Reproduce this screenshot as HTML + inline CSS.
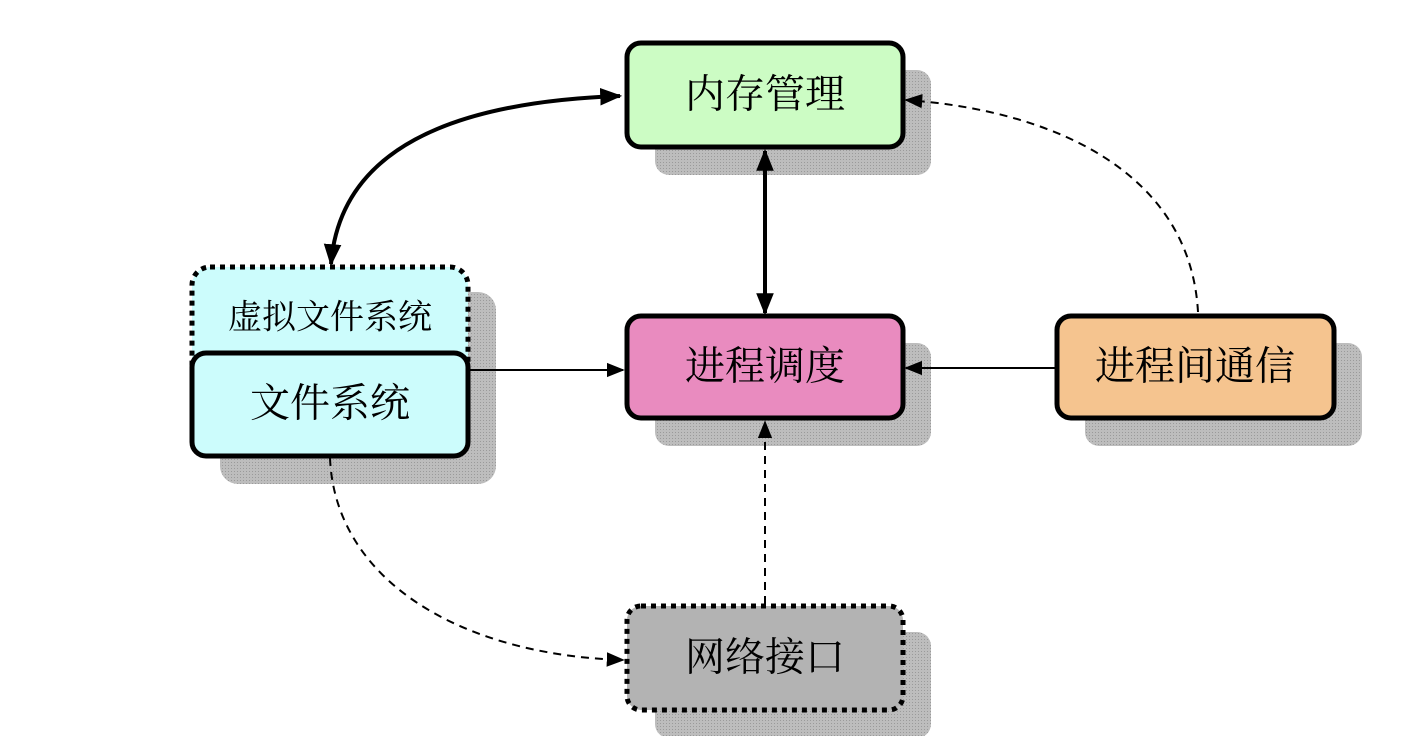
<!DOCTYPE html>
<html><head><meta charset="utf-8"><style>
body{margin:0;background:#fff;width:1422px;height:736px;overflow:hidden}
svg text{font-family:"Liberation Serif","Noto Serif CJK SC",serif;text-anchor:middle;dominant-baseline:central;fill:#000}
</style></head><body>
<svg width="1422" height="736" viewBox="0 0 1422 736">
<defs>
<pattern id="sh" width="3" height="3" patternUnits="userSpaceOnUse"><rect width="3" height="3" fill="#bdbdbd"/><rect width="1" height="1" fill="#9a9a9a"/></pattern>
<marker id="a" viewBox="0 0 10 10" refX="9" refY="5" markerWidth="6" markerHeight="6" orient="auto-start-reverse" markerUnits="userSpaceOnUse"><path d="M0 0L10 5L0 10z"/></marker>
<marker id="A" viewBox="0 0 10 10" refX="9" refY="5" markerWidth="22" markerHeight="22" orient="auto-start-reverse" markerUnits="userSpaceOnUse"><path d="M0 1L10 5L0 9z"/></marker>
<marker id="b" viewBox="0 0 10 10" refX="9" refY="5" markerWidth="18" markerHeight="18" orient="auto-start-reverse" markerUnits="userSpaceOnUse"><path d="M0 1L10 5L0 9z"/></marker>
</defs>
<!-- shadows -->
<g fill="url(#sh)">
<rect x="655" y="70" width="276" height="105" rx="14"/>
<rect x="655" y="343" width="276" height="103" rx="14"/>
<rect x="1085" y="343" width="277" height="103" rx="14"/>
<rect x="220" y="292" width="276" height="192" rx="18"/>
<rect x="655" y="632" width="276" height="106" rx="14"/>
</g>
<!-- connectors -->
<g fill="none" stroke="#000">
<path d="M620 96 C450 102 340 150 331 264" stroke-width="4" marker-start="url(#A)" marker-end="url(#A)"/>
<path d="M765 151 V313" stroke-width="4" marker-start="url(#A)" marker-end="url(#A)"/>
<path d="M470 370 H623" stroke-width="2" marker-end="url(#b)"/>
<path d="M1057 368 H906" stroke-width="2" marker-end="url(#b)"/>
<path d="M1198 312 C1190 170 1050 110 906 100" stroke-width="2" stroke-dasharray="8,6" marker-end="url(#b)"/>
<path d="M765 604 V422" stroke-width="2" stroke-dasharray="8,6" marker-end="url(#b)"/>
<path d="M330 458 C335 580 460 655 623 660" stroke-width="2" stroke-dasharray="8,6" marker-end="url(#b)"/>
</g>
<!-- boxes -->
<rect x="192" y="267" width="276" height="189" rx="18" fill="#ccfcfc" stroke="#000" stroke-width="5" stroke-dasharray="5,5"/>
<rect x="192" y="353" width="276" height="103" rx="14" fill="#ccfcfc" stroke="#000" stroke-width="5"/>
<rect x="627" y="43" width="276" height="104" rx="14" fill="#ccfcc4" stroke="#000" stroke-width="5"/>
<rect x="627" y="316" width="276" height="102" rx="14" fill="#e98bbf" stroke="#000" stroke-width="5"/>
<rect x="1057" y="316" width="277" height="102" rx="14" fill="#f5c48f" stroke="#000" stroke-width="5"/>
<rect x="627" y="606" width="276" height="104" rx="14" fill="#b3b3b3" stroke="#000" stroke-width="5" stroke-dasharray="5,5"/>
<text x="330" y="318" font-size="34">虚拟文件系统</text>
<text x="330" y="403" font-size="40">文件系统</text>
<text x="765" y="94" font-size="40">内存管理</text>
<text x="765" y="366" font-size="40">进程调度</text>
<text x="1195" y="366" font-size="40">进程间通信</text>
<text x="765" y="657" font-size="40">网络接口</text>
</svg>
</body></html>
